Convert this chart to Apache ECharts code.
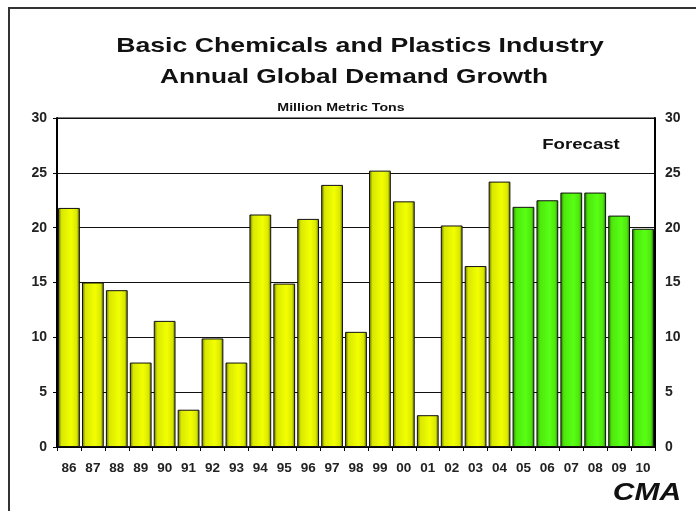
<!DOCTYPE html>
<html>
<head>
<meta charset="utf-8">
<script src="https://cdn.jsdelivr.net/npm/echarts@6/dist/echarts.min.js"></script>
<style>
  html, body { margin: 0; padding: 0; background: #fff; }
  #chart { width: 696px; height: 511px; }
</style>
</head>
<body>
<div id="chart"></div>
<script>
var years = ['86', '87', '88', '89', '90', '91', '92', '93', '94', '95', '96', '97', '98',
  '99', '00', '01', '02', '03', '04', '05', '06', '07', '08', '09', '10']
var demand = [21.8, 15.0, 14.3, 7.7, 11.5, 3.4, 9.9, 7.7, 21.2, 14.9, 20.8, 23.9, 10.5,
  25.2, 22.4, 2.9, 20.2, 16.5, 24.2, 21.9, 22.5, 23.2, 23.2, 21.1, 19.9]
var firstForecast = '05'
var yTicks = [0, 5, 10, 15, 20, 25, 30]

var font = 'Liberation Sans, Arial, sans-serif'

function barFill (c) {
  // darker edges, bright middle - like the old 3d-ish excel bars
  return new echarts.graphic.LinearGradient(0, 0, 1, 0, [
    { offset: 0, color: c.edge },
    { offset: 0.16, color: c.mid },
    { offset: 0.6, color: c.main },
    { offset: 0.86, color: c.mid },
    { offset: 1, color: c.edge }
  ])
}
var yellow = barFill({ edge: '#5f6500', mid: '#d9e800', main: '#f2ff00' })
var green = barFill({ edge: '#276d00', mid: '#4ee80c', main: '#58ff14' })
var forecastIdx = years.indexOf(firstForecast)

// the original lettering is a wide face, so stretch liberation sideways
function label (txt, x, y, size, sx, extra) {
  return {
    type: 'text', x: x, y: y, scaleX: sx, z: 10,
    style: {
      text: txt,
      font: (extra || 'bold') + ' ' + size + 'px ' + font,
      fill: '#111', align: 'center', verticalAlign: 'middle'
    }
  }
}

var chart = echarts.init(document.getElementById('chart'), null, { renderer: 'canvas' })

var yAxisBase = {
  type: 'value',
  min: yTicks[0],
  max: yTicks[yTicks.length - 1],
  interval: yTicks[1] - yTicks[0],
  axisLine: { show: true, lineStyle: { color: '#000', width: 2 } },
  axisLabel: { color: '#222', fontFamily: font, fontWeight: 'bold', fontSize: 14 },
  splitLine: { show: false }
}

chart.setOption({
  animation: false,
  graphic: [
    {
      type: 'polyline',
      shape: { points: [[9, 511], [9, 8], [696, 8]] },
      style: { stroke: '#333', lineWidth: 2, fill: null }
    },
    label('Basic Chemicals and Plastics Industry', 360, 46, 21, 1.27),
    label('Annual Global Demand Growth', 354, 77, 21, 1.25),
    label('Million Metric Tons', 341, 108, 10.5, 1.35),
    label('Forecast', 581, 145, 15.5, 1.2),
    label('CMA', 647, 493, 24, 1.25, 'italic bold')
  ],
  grid: {
    left: 57, right: 41, top: 118, bottom: 64,
    show: true, borderColor: '#000', borderWidth: 1, backgroundColor: 'transparent'
  },
  xAxis: {
    type: 'category',
    data: years,
    axisLine: { lineStyle: { color: '#000', width: 1.5 } },
    axisTick: { show: true, length: 4, lineStyle: { color: '#000' } },
    axisLabel: { color: '#222', fontFamily: font, fontWeight: 'bold', fontSize: 13.5, margin: 14 }
  },
  yAxis: [
    Object.assign({}, yAxisBase, {
      position: 'left',
      axisTick: { show: true, length: 4, lineStyle: { color: '#000' } },
      axisLabel: Object.assign({}, yAxisBase.axisLabel, { margin: 10 }),
      splitLine: { show: true, lineStyle: { color: '#111', width: 1 } }
    }),
    Object.assign({}, yAxisBase, {
      position: 'right',
      axisTick: { show: false },
      axisLabel: Object.assign({}, yAxisBase.axisLabel, { margin: 10 })
    })
  ],
  series: [
    {
      type: 'bar',
      barCategoryGap: '9%',
      data: demand,
      itemStyle: {
        borderColor: '#111',
        borderWidth: 1,
        color: function (p) { return p.dataIndex >= forecastIdx ? green : yellow }
      }
    }
  ]
})
</script>
</body>
</html>
